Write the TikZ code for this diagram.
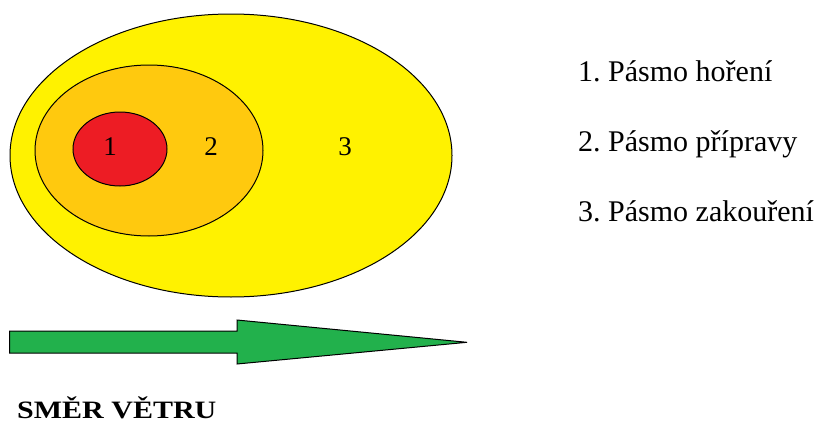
\documentclass[tikz,border=0pt]{standalone}
\usepackage{fontspec}
\setmainfont{Liberation Serif}
\usetikzlibrary{shapes.geometric}
\frenchspacing

\definecolor{zoneyellow}{HTML}{FFF200}
\definecolor{zonegold}{HTML}{FFC90E}
\definecolor{zonered}{HTML}{ED1C24}
\definecolor{windgreen}{HTML}{22B14C}

\tikzset{
  zone/.style={ellipse, draw=black, line width=1pt, inner sep=0pt},
  zonelabel/.style={anchor=base, inner sep=0pt, font=\fontsize{27}{32}\selectfont},
  legend/.style={anchor=base west, inner sep=0pt, font=\fontsize{30}{36}\selectfont},
}

\begin{document}
\begin{tikzpicture}[x=1pt, y=-1pt]
  \useasboundingbox (0,0) rectangle (827,423);

  % nested zones
  \node[zone, fill=zoneyellow, minimum width=442pt, minimum height=283pt] (smoke) at (231,155.5) {};
  \node[zone, fill=zonegold, minimum width=228pt, minimum height=171pt] (prep) at (149,150.5) {};
  \node[zone, fill=zonered, minimum width=94pt, minimum height=74pt] (burn) at (120,149) {};

  \node[zonelabel] (l1) at (110,155) {1};
  \node[zonelabel] (l2) at (211,155) {2};
  \node[zonelabel] (l3) at (345,155) {3};

  % legend
  \node[legend] (t1) at (578,81) {1. Pásmo hoření};
  \node[legend] (t2) at (578,151) {2. Pásmo přípravy};
  \node[legend] (t3) at (578,221) {3. Pásmo zakouření};

  % wind arrow
  \draw[fill=windgreen, line width=1pt, line join=miter]
    (9.5,331) -- (237,331) -- (237,320) -- (467,342.3) -- (237,364) -- (237,353) -- (9.5,353) -- cycle;

  \node[anchor=base west, inner sep=0pt, font=\bfseries\fontsize{25}{30}\selectfont] (wind) at (17,418)
    {\scalebox{1.2}[1]{SMĚR VĚTRU}};
\end{tikzpicture}
\end{document}
